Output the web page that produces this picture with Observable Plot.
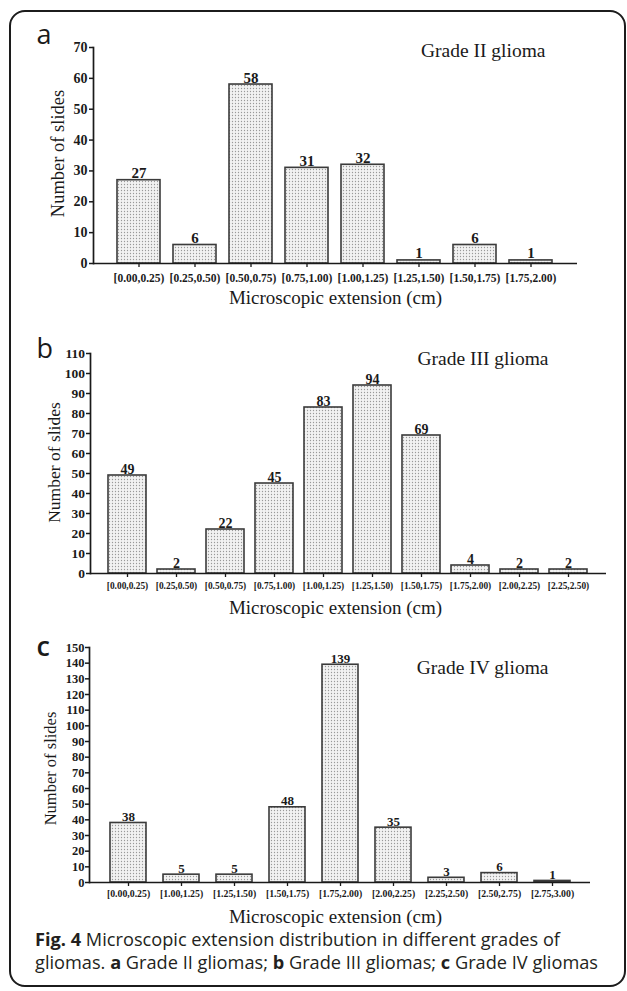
<!DOCTYPE html>
<html><head><meta charset="utf-8">
<script src="https://cdn.jsdelivr.net/npm/d3@7"></script>
<script src="https://cdn.jsdelivr.net/npm/@observablehq/plot@0.6"></script>
<style>
body{margin:0;background:#fff;}
#page{position:relative;width:627px;height:991px;overflow:hidden;background:#fff;}
#border{position:absolute;left:9px;top:10px;width:617px;height:977px;border:2px solid #1c1c1c;border-radius:16px;box-sizing:border-box;}
.panel{position:absolute;left:0;}
#caption{position:absolute;left:35px;top:928px;font-family:"Open Sans";font-size:18.2px;line-height:23px;color:#231f20;white-space:nowrap;}
#caption b{font-weight:700;}
</style></head><body>
<div id="page"><div id="border"></div>
<div id="pa" class="panel" style="top:0px"></div>
<div id="pb" class="panel" style="top:310px"></div>
<div id="pc" class="panel" style="top:620px"></div>
<div id="caption"><b>Fig. 4</b> Microscopic extension distribution in different grades of<br>gliomas. <b>a</b> Grade II gliomas; <b>b</b> Grade III gliomas; <b>c</b> Grade IV gliomas</div>
</div>
<script>
// ---- data ----
const binsA = ["[0.00,0.25)","[0.25,0.50)","[0.50,0.75)","[0.75,1.00)","[1.00,1.25)","[1.25,1.50)","[1.50,1.75)","[1.75,2.00)"];
const countsA = [27,6,58,31,32,1,6,1];
const ticksA = [0,10,20,30,40,50,60,70];

const binsB = ["[0.00,0.25)","[0.25,0.50)","[0.50,0.75)","[0.75,1.00)","[1.00,1.25)","[1.25,1.50)","[1.50,1.75)","[1.75,2.00)","[2.00,2.25)","[2.25,2.50)"];
const countsB = [49,2,22,45,83,94,69,4,2,2];
const ticksB = [0,10,20,30,40,50,60,70,80,90,100,110];

const binsC = ["[0.00,0.25)","[1.00,1.25)","[1.25,1.50)","[1.50,1.75)","[1.75,2.00)","[2.00,2.25)","[2.25,2.50)","[2.50,2.75)","[2.75,3.00)"];
const countsC = [38,5,5,48,139,35,3,6,1];
const ticksC = [0,10,20,30,40,50,60,70,80,90,100,110,120,130,140,150];

const titles = ["Grade II glioma","Grade III glioma","Grade IV glioma"];
const letters = ["a","b","c"];
const yTitle = "Number of slides";
const xTitle = "Microscopic extension (cm)";

const SERIF = '"Liberation Serif","Times New Roman",serif';
const SANS = '"Open Sans",sans-serif';
const INK = "#1a1a1a";

function panel(el, bins, counts, ticks, title, letter, L) {
  const data = bins.map((b, i) => ({bin: b, n: counts[i]}));
  const pid = el + "-dots";
  const svg = Plot.plot({
    width: 627, height: L.h,
    marginLeft: L.ml, marginRight: L.mr, marginTop: L.mt, marginBottom: L.mb,
    style: {fontFamily: SERIF, background: "transparent", color: INK, overflow: "visible"},
    x: {type: "band", domain: bins, paddingInner: L.pi, paddingOuter: L.po, label: null},
    y: {domain: [0, ticks[ticks.length - 1]], label: null},
    marks: [
      Plot.barY(data, {x: "bin", y: "n", fill: `url(#${pid})`, stroke: "#3b3b3b", strokeWidth: 1.6}),
      Plot.ruleY([0], {stroke: INK, strokeWidth: 1.7}),
      Plot.frame({anchor: "left", stroke: INK, strokeWidth: 1.7}),
      Plot.axisY({ticks: ticks, tickSize: 4, tickPadding: L.ytp, fontSize: L.yfs, fontWeight: "bold",
                  tickFormat: d => String(d), label: null, strokeWidth: 1.5}),
      Plot.axisX({tickSize: 4, tickPadding: L.xtp, fontSize: L.xfs, fontWeight: "bold", label: null, strokeWidth: 1.3}),
      Plot.text(data, {x: "bin", y: "n", text: d => String(d.n), lineAnchor: "bottom", dy: -2,
                       fontSize: L.vfs, fontWeight: "bold"}),
      Plot.text([title], {frameAnchor: "top-left", dx: L.tx - L.ml, dy: L.ty - L.mt, textAnchor: "end",
                          lineAnchor: "bottom", fontSize: 19.5, fontWeight: "normal"}),
      Plot.text([letter], {frameAnchor: "top-left", dx: 36 - L.ml, dy: L.ly - L.mt, textAnchor: "start",
                           lineAnchor: "bottom", fontSize: 27, fontFamily: SANS, fontWeight: L.lw}),
      Plot.text([yTitle], {frameAnchor: "top-left", dx: L.yx - L.ml, dy: L.yy - L.mt, rotate: -90,
                           textAnchor: "middle", lineAnchor: "bottom", fontSize: L.yts, fontWeight: "normal"}),
      Plot.text([xTitle], {frameAnchor: "bottom-left", dx: 335 - L.ml, dy: L.xy - (L.h - L.mb),
                           textAnchor: "middle", lineAnchor: "bottom", fontSize: 19, fontWeight: "normal"})
    ]
  });
  const pat = d3.select(svg).insert("defs", ":first-child")
    .append("pattern").attr("id", pid).attr("width", 3).attr("height", 3).attr("patternUnits", "userSpaceOnUse");
  pat.append("rect").attr("width", 3).attr("height", 3).attr("fill", "#f2f2f2");
  pat.append("circle").attr("cx", 1.5).attr("cy", 1.5).attr("r", 0.65).attr("fill", "#999");
  document.getElementById(el).appendChild(svg);
}

panel("pa", binsA, countsA, ticksA, titles[0], letters[0],
  {h: 310, ml: 93, mr: 50, mt: 47, mb: 47, pi: 0.23, po: 0.39, ytp: 2, yfs: 14, xtp: 6, xfs: 11.5, vfs: 15,
   tx: 545, ty: 56, ly: 43, lw: "normal", yx: 63, yy: 153, yts: 18.5, xy: 303});
panel("pb", binsB, countsB, ticksB, titles[1], letters[1],
  {h: 310, ml: 90, mr: 21, mt: 43, mb: 47, pi: 0.224, po: 0.375, ytp: 1.5, yfs: 13.5, xtp: 5, xfs: 9.4, vfs: 14,
   tx: 548, ty: 54, ly: 47, lw: "normal", yx: 59, yy: 152, yts: 17.5, xy: 303});
panel("pc", binsC, countsC, ticksC, titles[2], letters[2],
  {h: 305, ml: 89, mr: 37, mt: 27, mb: 43, pi: 0.327, po: 0.34, ytp: 1, yfs: 12.5, xtp: 4, xfs: 9.8, vfs: 13,
   tx: 548, ty: 53, ly: 35, lw: "600", yx: 55, yy: 148, yts: 16.5, xy: 302});
</script>
</body></html>
